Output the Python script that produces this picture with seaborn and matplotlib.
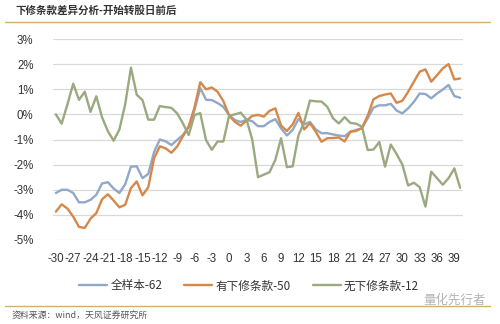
import numpy as np
import pandas as pd
import matplotlib
matplotlib.use("Agg")
import matplotlib.pyplot as plt
import seaborn as sns
from matplotlib.lines import Line2D

days = list(range(-30, 41))

full_sample = [-3.13, -3.0, -3.0, -3.13, -3.5, -3.5, -3.4, -3.2, -2.75, -2.7,
               -2.95, -3.13, -2.78, -2.08, -2.07, -2.54, -2.37, -1.5, -1.0, -1.07,
               -1.22, -1.02, -0.82, -0.5, 0.17, 1.05, 0.58, 0.57, 0.45, 0.3,
               -0.03, -0.23, -0.3, -0.22, -0.27, -0.47, -0.47, -0.3, -0.19, -0.56,
               -0.84, -0.62, -0.19, -0.4, -0.3, -0.6, -0.75, -0.75, -0.8, -0.84,
               -0.87, -0.69, -0.62, -0.56, -0.15, 0.27, 0.36, 0.36, 0.42, 0.15,
               0.04, 0.24, 0.5, 0.83, 0.81, 0.64, 0.83, 0.99, 1.17, 0.73, 0.66]

with_clause = [-3.87, -3.58, -3.75, -4.07, -4.48, -4.52, -4.15, -3.93, -3.38, -3.18,
               -3.43, -3.7, -3.6, -2.93, -2.67, -3.22, -2.9, -1.75, -1.27, -1.35,
               -1.53, -1.28, -0.87, -0.48, 0.27, 1.28, 1.0, 1.07, 0.9, 0.53,
               -0.05, -0.3, -0.45, -0.25, -0.06, -0.02, -0.09, 0.14, 0.24, -0.45,
               -0.66, -0.4, 0.06, -0.6, -0.35, -0.69, -1.09, -0.95, -0.94, -0.92,
               -1.08, -0.69, -0.66, -0.54, -0.05, 0.6, 0.73, 0.79, 0.83, 0.46,
               0.54, 0.9, 1.3, 1.7, 1.79, 1.3, 1.56, 1.83, 2.0, 1.39, 1.43]

without_clause = [0.0, -0.37, 0.4, 1.22, 0.58, 0.9, 0.1, 0.72, -0.12, -0.67,
                  -1.05, -0.6, 0.4, 1.86, 0.78, 0.57, -0.21, -0.21, 0.33, 0.29,
                  0.26, 0.04, -0.36, -0.82, -0.03, 0.05, -1.02, -1.41, -1.08, -1.08,
                  -0.05, 0.0, 0.07, -0.2, -1.0, -2.5, -2.4, -2.3, -1.81, -0.95,
                  -2.1, -2.07, -0.84, -0.3, 0.55, 0.52, 0.51, 0.3, -0.16, -0.36,
                  -0.11, -0.34, -0.37, -0.49, -1.42, -1.4, -1.1, -2.08, -1.2, -1.58,
                  -2.0, -2.83, -2.72, -2.9, -3.67, -2.28, -2.54, -2.8, -2.54, -2.15, -2.92]

series_names = ["全样本-62", "有下修条款-50", "无下修条款-12"]
colors = ["#91a8c9", "#d5884a", "#9aa97f"]
xtick_vals = list(range(-30, 40, 3))
ytick_vals = list(range(-5, 4))

title = "下修条款差异分析-开始转股日前后"
source = "资料来源：wind，天风证券研究所"
watermark = "量化先行者"

df = pd.DataFrame({
    "day": days * 3,
    "value": full_sample + with_clause + without_clause,
    "series": [series_names[0]] * len(days) + [series_names[1]] * len(days) + [series_names[2]] * len(days),
})

sns.set_theme(style="white")
plt.rcParams["font.family"] = ["Noto Sans CJK SC", "DejaVu Sans"]

W, H = 500, 324
fig = plt.figure(figsize=(W / 100, H / 100), dpi=100)
fig.patch.set_facecolor("white")

ax = fig.add_axes([53 / W, (H - 240) / H, (463 - 53) / W, (240 - 39) / H])
sns.lineplot(data=df, x="day", y="value", hue="series", palette=colors,
             hue_order=series_names, linewidth=1.7, ax=ax, legend=False, zorder=3)

ax.set_xlim(-30.5, 40.5)
ax.set_ylim(-5, 3)
ax.set_yticks(ytick_vals)
ax.set_yticklabels([f"{v}%" for v in ytick_vals], fontsize=8.3, color="#333333",
                   family=["Liberation Sans", "Noto Sans CJK SC"])
ax.set_xticks(xtick_vals)
ax.set_xticklabels([str(v) for v in xtick_vals], fontsize=8.3, color="#333333",
                   family=["Liberation Sans", "Noto Sans CJK SC"])
ax.tick_params(axis="both", length=0)
ax.tick_params(axis="y", pad=14)
ax.tick_params(axis="x", pad=9)
ax.set_xlabel("")
ax.set_ylabel("")
for s in ax.spines.values():
    s.set_visible(False)
ax.grid(axis="y", color="#d9d9d9", linewidth=0.9)
ax.grid(axis="x", visible=False)
ax.set_axisbelow(True)

handles = [Line2D([0], [0], color=c, linewidth=1.7) for c in colors]
fig.legend(handles, series_names, loc="center", bbox_to_anchor=(249 / W, (H - 286) / H),
           ncol=3, frameon=False, fontsize=8.4, handlelength=2.4, handletextpad=0.25,
           columnspacing=1.9, labelcolor="#333333")

fig.text(15 / W, 1 - 11 / H, title, fontsize=7.6, fontweight="bold", color="#333333",
         ha="left", va="center")
fig.add_artist(Line2D([5 / W, 490 / W], [1 - 21.5 / H, 1 - 21.5 / H], color="#d4b06a", linewidth=1.0))
fig.add_artist(Line2D([5 / W, 490 / W], [1 - 305.5 / H, 1 - 305.5 / H], color="#d4b06a", linewidth=1.0))
fig.text(12 / W, 1 - 316 / H, source, fontsize=6.4, color="#555555", ha="left", va="center")
fig.text(486 / W, 1 - 300 / H, watermark, fontsize=9, color="#b5b5b5", ha="right", va="center")

fig.savefig("out.png", dpi=100, facecolor="white")
